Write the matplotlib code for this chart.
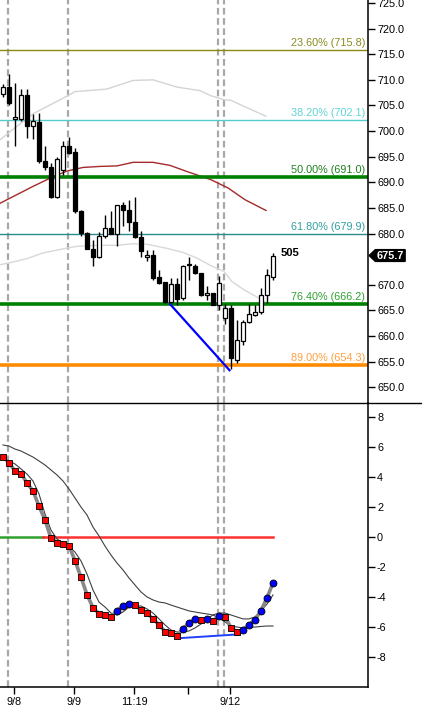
import numpy as np
import matplotlib
matplotlib.use('Agg')
import matplotlib.pyplot as plt
import matplotlib.transforms as mtransforms
from matplotlib.lines import Line2D
from matplotlib.patches import Polygon

plt.rcParams['font.family'] = ['Liberation Sans', 'DejaVu Sans']

# candles (one per bar, bar index = position)
opens = [707.2, 708.6, 702.4, 702.3, 707.1, 701.0, 701.8, 694.2, 693.0, 687.2,
         692.4, 697.1, 695.9, 684.3, 680.1, 677.0, 675.5, 679.5, 681.0, 680.0,
         685.5, 684.6, 682.3, 679.4, 675.4, 675.8, 671.5, 670.5, 666.7, 670.1,
         667.4, 673.8, 673.7, 672.3, 667.9, 668.3, 666.1, 663.5, 665.4, 655.3,
         659.1, 662.7, 664.1, 664.7, 667.9, 671.6]
highs = [709.2, 711.2, 709.4, 708.2, 708.2, 703.3, 703.5, 697.0, 693.7, 695.0,
         698.0, 698.8, 696.7, 684.6, 680.3, 678.8, 680.2, 683.6, 684.3, 685.6,
         686.2, 686.6, 687.2, 680.4, 676.8, 676.8, 672.9, 670.6, 671.3, 671.3,
         673.9, 675.5, 674.1, 672.3, 669.8, 668.4, 671.7, 666.3, 666.1, 663.1,
         663.1, 666.2, 666.1, 669.3, 673.1, 676.2]
lows = [706.6, 705.1, 697.0, 701.9, 698.7, 698.5, 693.7, 692.4, 687.0, 686.9,
        691.5, 695.6, 684.0, 679.6, 676.9, 673.7, 675.2, 679.1, 679.9, 677.6,
        681.5, 680.4, 679.1, 675.5, 674.7, 670.9, 670.2, 666.5, 666.4, 666.1,
        667.0, 671.0, 672.1, 667.7, 667.0, 666.0, 665.1, 662.4, 653.6, 654.7,
        658.3, 662.5, 663.8, 664.2, 666.5, 670.9]
closes = [708.6, 705.5, 702.7, 707.1, 700.9, 701.9, 694.1, 693.0, 687.2, 694.5,
          697.0, 695.8, 684.3, 680.1, 677.0, 675.5, 679.5, 681.0, 680.0, 685.5,
          684.5, 682.3, 679.4, 676.5, 675.8, 671.4, 670.3, 666.6, 670.1, 667.2,
          673.7, 674.0, 672.3, 668.0, 668.3, 666.1, 670.4, 665.4, 655.6, 659.2,
          662.7, 664.2, 664.7, 668.0, 671.9, 675.7]

# moving averages (vertices: bar position, price)
ma_top_x = [-0.5, 2.28, 5.05, 7.83, 10.62, 12.0, 17.28, 21.72, 25.05, 28.95, 32.83, 34.67, 36.88, 38.0, 40.22, 43.83]
ma_top_y = [698.3, 700.9, 703.4, 705.1, 706.8, 707.7, 708.2, 709.9, 710.0, 708.6, 707.9, 706.9, 706.1, 706.0, 704.8, 702.9]
ma_mid_x = [-0.5, 1.17, 4.0, 6.67, 10.0, 12.33, 16.17, 19.0, 21.67, 24.0, 27.33, 30.0, 32.33, 34.67, 36.83, 38.17, 40.17, 42.17, 43.83]
ma_mid_y = [673.9, 674.3, 675.1, 676.2, 677.0, 677.5, 677.7, 677.7, 678.0, 677.9, 677.1, 676.3, 675.2, 673.7, 672.6, 670.6, 669.0, 667.7, 666.5]
ma_red_x = [-0.5, 2.33, 5.0, 7.83, 10.67, 13.33, 16.17, 19.0, 21.67, 25.0, 27.83, 30.67, 34.67, 37.5, 40.33, 43.83]
ma_red_y = [685.9, 687.6, 689.2, 690.8, 692.2, 692.9, 693.1, 693.2, 693.9, 693.9, 693.3, 692.1, 690.5, 688.9, 686.6, 684.5]

fib_pcts = [23.6, 38.2, 50.0, 61.8, 76.4, 89.0]
fib_levels = [715.8, 702.1, 691.0, 679.9, 666.2, 654.3]
fib_line_colors = ['#8a8a10', '#55cccc', '#008000', '#2a8c8c', '#008000', '#ff8c00']
fib_text_colors = ['#8a8a20', '#60d4d4', '#208020', '#30a0a0', '#30a030', '#ffa040']
fib_widths = [1, 1, 2.6, 1, 2.6, 2.6]

div_price_x = [27.85, 37.75]
div_price_y = [666.2, 653.3]

# oscillator
osc = [5.33, 4.93, 4.38, 4.20, 3.59, 3.05, 2.06, 1.13, -0.07, -0.38,
       -0.44, -0.58, -1.57, -2.68, -3.83, -4.69, -5.09, -5.16, -5.31, -4.89,
       -4.56, -4.43, -4.50, -4.85, -5.07, -5.44, -5.82, -6.29, -6.35, -6.55,
       -6.09, -5.71, -5.44, -5.51, -5.44, -5.58, -5.23, -5.29, -6.02, -6.29,
       -6.16, -5.82, -5.49, -4.89, -4.03, -3.05]
osc_fast = [5.25, 5.05, 4.85, 4.52, 4.18, 3.72, 2.86, 1.53, 0.46, -0.13,
            -0.40, -0.66, -1.00, -1.59, -2.46, -3.52, -4.32, -4.65, -5.05, -5.18,
            -4.98, -4.65, -4.58, -4.58, -4.78, -5.05, -5.44, -5.84, -6.18, -6.31,
            -6.31, -6.24, -6.04, -5.78, -5.44, -5.18, -5.05, -5.05, -5.18, -5.31,
            -5.44, -5.44, -5.31, -4.91, -4.45, -3.85]
osc_slow = [6.11, 6.04, 5.84, 5.71, 5.51, 5.31, 5.05, 4.78, 4.45, 4.12,
            3.72, 3.19, 2.59, 1.99, 1.46, 0.66, 0.07, -0.60, -1.20, -1.73,
            -2.19, -2.72, -3.19, -3.65, -3.98, -4.18, -4.32, -4.38, -4.52, -4.65,
            -4.78, -4.91, -4.98, -5.05, -5.11, -5.18, -5.38, -5.64, -5.91, -5.98,
            -6.04, -6.01, -5.98, -5.94, -5.91, -5.91]
div_osc_x = [28.95, 39.5]
div_osc_y = [-6.73, -6.46]
zero_switch = 6.7

session_lines = [0.83, 10.83, 35.83, 36.83]
xtick_pos = [1.85, 11.85, 21.85, 30.9, 37.9]
xtick_labels = ['9/8', '9/9', '11:19', '', '9/12']
last_price = 675.7
bar_count_label = '505'

n = len(closes)
xs = np.arange(n)

fig = plt.figure(figsize=(4.22, 7.11), dpi=100)
ax1 = fig.add_axes([0, 0.4332, 0.872, 0.5668])
ax2 = fig.add_axes([0, 0.0338, 0.872, 0.3994])

for ax in (ax1, ax2):
    ax.set_xlim(-0.5, 60.83)
    for s in ['left', 'top', 'bottom']:
        ax.spines[s].set_visible(False)
    ax.spines['right'].set_linewidth(1.1)
    ax.yaxis.tick_right()
    ax.tick_params(axis='y', direction='out', length=5, width=1, pad=1.5, labelsize=7.8, colors='black')
    for x in session_lines:
        ax.axvline(x, color='#a8a8a8', lw=1.6, dashes=(3, 1.6), zorder=1)

ax2.spines['bottom'].set_visible(True)
ax2.spines['bottom'].set_linewidth(1.1)

# ---- price panel
ax1.set_ylim(646.9, 725.6)
ticks1 = [v for v in range(650, 726, 5) if v != 675]
ax1.set_yticks(ticks1)
ax1.set_yticklabels([f'{v:.1f}' for v in ticks1])
ax1.set_xticks([])

ax1.plot(ma_top_x, ma_top_y, color='#d4d4d4', lw=1, zorder=2)
ax1.plot(ma_mid_x, ma_mid_y, color='#d8d8d8', lw=1, zorder=2)
ax1.plot(ma_red_x, ma_red_y, color='#a52a2a', lw=1, zorder=2)

trans1 = mtransforms.blended_transform_factory(ax1.transAxes, ax1.transData)
for pct, lvl, lc, tc, w in zip(fib_pcts, fib_levels, fib_line_colors, fib_text_colors, fib_widths):
    ax1.axhline(lvl, color=lc, lw=w, zorder=2)
    ax1.annotate(f'{pct:.2f}% ({lvl:.1f})', xy=(0.992, lvl), xycoords=trans1,
                 xytext=(0, 1.5), textcoords='offset points', ha='right', va='bottom',
                 fontsize=7.8, color=tc)

ax1.plot(div_price_x, div_price_y, color='#0000ff', lw=1.6, zorder=3)

ax1.vlines(xs, lows, highs, color='black', lw=1, zorder=4)
body_lo = np.minimum(opens, closes)
body_h = np.maximum(np.abs(np.array(closes) - np.array(opens)), 0.25)
face = ['white' if c >= o else 'black' for o, c in zip(opens, closes)]
ax1.bar(xs, body_h, bottom=body_lo, width=0.55, color=face, edgecolor='black', lw=0.9, zorder=5)

ax1.text(46.3, closes[-1] + 0.4, bar_count_label, fontsize=8, fontweight='bold', va='center', ha='left')

# last price tag
tag = Polygon([(1.003, last_price), (1.02, last_price + 1.15), (1.101, last_price + 1.15),
               (1.101, last_price - 1.15), (1.02, last_price - 1.15)],
              closed=True, transform=trans1, facecolor='black', edgecolor='black',
              clip_on=False, zorder=10)
ax1.add_patch(tag)
ax1.text(1.062, last_price, f'{last_price:.1f}', transform=trans1, color='white', fontsize=7.8,
         fontweight='bold', ha='center', va='center', zorder=11, clip_on=False)

# ---- oscillator panel
ax2.set_ylim(-9.96, 8.9)
ticks2 = list(range(-8, 9, 2))
ax2.set_yticks(ticks2)
ax2.set_yticklabels([str(v) for v in ticks2])
ax2.set_xticks(xtick_pos)
ax2.set_xticklabels(xtick_labels)
ax2.tick_params(axis='x', direction='out', length=5, width=1, pad=2, labelsize=7.8)

ax2.plot([-0.5, zero_switch], [0, 0], color='#30a030', lw=1.8, zorder=2)
ax2.plot([zero_switch, n - 1], [0, 0], color='#ff3030', lw=1.8, zorder=2)

ax2.plot(xs, osc_slow, color='#404040', lw=0.8, zorder=3)
ax2.plot(xs, osc_fast, color='#404040', lw=0.8, zorder=3)
ax2.plot(xs, osc, color='#888888', lw=2.6, zorder=3)
ax2.plot(div_osc_x, div_osc_y, color='#2040ff', lw=1.4, zorder=3)

osc_arr = np.array(osc)
rising = np.r_[False, np.diff(osc_arr) > 0]
ax2.scatter(xs[~rising], osc_arr[~rising], marker='s', s=21, color='#ff0000', edgecolor='black', lw=0.6, zorder=5)
ax2.scatter(xs[rising], osc_arr[rising], marker='o', s=25, color='#0000ff', edgecolor='black', lw=0.6, zorder=5)

fig.add_artist(Line2D([0, 1], [0.4332, 0.4332], color='black', lw=1))

fig.savefig('out.png', dpi=100)
